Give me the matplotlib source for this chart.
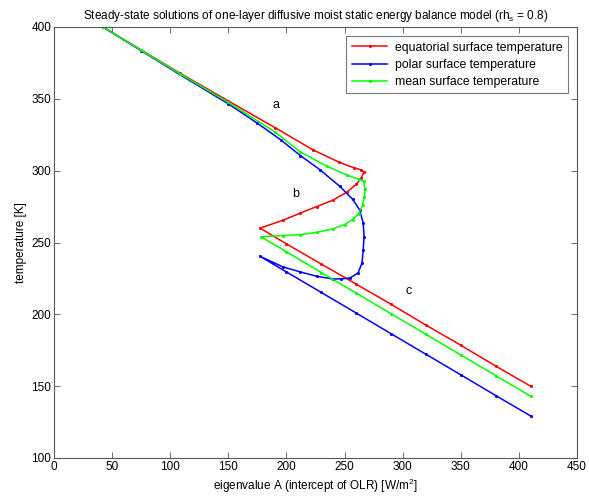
import numpy as np
import matplotlib
matplotlib.use('Agg')
import matplotlib.pyplot as plt

plt.rcParams['font.family'] = ['Liberation Sans', 'DejaVu Sans']
plt.rcParams['mathtext.fontset'] = 'custom'
plt.rcParams['mathtext.rm'] = 'Liberation Sans'
plt.rcParams['mathtext.it'] = 'Liberation Sans'

# values (A in W/m^2, T in K)
A_eq = [42, 75, 108, 150, 190, 223, 245, 258, 264.5, 266.5,
        264.5, 260, 252, 240, 226, 212, 197, 177.3,
        200, 230, 260, 290, 320, 350, 380, 410]
T_eq = [400, 384, 368, 348.5, 330, 314.4, 306, 302, 300.5, 299,
        295, 290.5, 285, 279.5, 275, 270.5, 265.5, 260,
        249, 235, 221, 207, 192.5, 178.5, 164, 150]

A_pol = [42, 75, 108, 150, 175, 195, 212, 229, 246, 257, 263, 266, 266.8,
         266, 265, 261.6, 254.7, 247, 240, 226, 212, 197, 177,
         200, 230, 260, 290, 320, 350, 380, 410]
T_pol = [400, 383.5, 367, 346.5, 333, 321.5, 310.5, 300.5, 289, 280, 272.6, 263.6, 254,
         244.8, 235.8, 228.8, 225.3, 224.7, 224.6, 226.5, 229.5, 233, 240.5,
         229.5, 215.2, 200.9, 186.5, 172.2, 157.9, 143.5, 129.3]

A_mean = [42, 75, 108, 150, 190, 212, 235, 252, 262, 266.5,
          267.5, 267, 265.5, 262, 257, 250, 240, 226, 212, 197, 178,
          200, 230, 260, 290, 320, 350, 380, 410]
T_mean = [400, 383.8, 367.6, 347.5, 327, 313, 303, 297, 294, 292.5,
          287, 282, 276, 270, 266, 262.5, 259.5, 257, 255.5, 254.8, 254,
          243.5, 229.1, 214.8, 200.4, 186.1, 171.7, 157.4, 143]

fig = plt.figure(figsize=(5.89, 5.0), dpi=100)
ax = fig.add_axes([0.0917, 0.084, 0.888, 0.862])

ax.plot(A_eq, T_eq, color='#ff0000', lw=1.1, marker='.', ms=2.5,
        label='equatorial surface temperature')
ax.plot(A_pol, T_pol, color='#0000ff', lw=1.1, marker='.', ms=2.5,
        label='polar surface temperature')
ax.plot(A_mean, T_mean, color='#00ff00', lw=1.1, marker='.', ms=2.5,
        label='mean surface temperature')

ax.text(191, 346, 'a', fontsize=9, ha='center', va='center')
ax.text(208, 284, 'b', fontsize=9, ha='center', va='center')
ax.text(305.5, 216, 'c', fontsize=9, ha='center', va='center')

ax.set_xlim(0, 450)
ax.set_ylim(100, 400)
ax.set_xticks(np.arange(0, 451, 50))
ax.set_yticks(np.arange(100, 401, 50))
ax.tick_params(direction='in', top=True, right=True, labelsize=8.5,
               length=4, width=0.6, color='0.35', pad=2)
for s in ax.spines.values():
    s.set_color('0.35')
    s.set_linewidth(0.8)

ax.set_xlabel('eigenvalue A (intercept of OLR) [W/m$^2$]', fontsize=8.5, labelpad=3)
ax.set_ylabel('temperature [K]', fontsize=8.5, labelpad=3)
ax.set_title('Steady-state solutions of one-layer diffusive moist static energy balance model (rh$_\\mathrm{s}$ = 0.8)',
             fontsize=8.5, pad=6)

leg = ax.legend(loc='upper right', fontsize=8.8, frameon=True, fancybox=False,
                handlelength=2.9, borderaxespad=0.75, labelspacing=0.42,
                handletextpad=0.6, borderpad=0.45)
leg.get_frame().set_edgecolor('0.35')
leg.get_frame().set_linewidth(0.8)

fig.savefig('out.png', dpi=100)
